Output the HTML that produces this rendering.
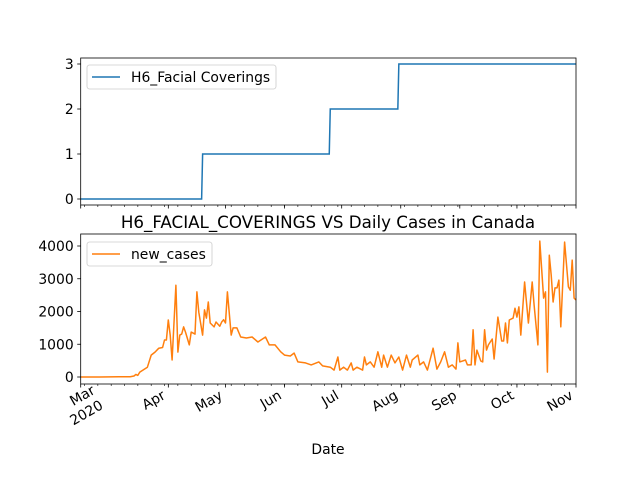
<!DOCTYPE html>
<html><head><meta charset="utf-8"><style>
body{margin:0;background:#fff;}
svg{display:block;font-family:"DejaVu Sans","Liberation Sans",sans-serif;}
</style></head><body>
<svg id="chart" width="640" height="480" viewBox="0 0 640 480" xmlns="http://www.w3.org/2000/svg"></svg>
<script>
// Data (day offsets from 2020-02-15)
const policyDays = [0, 64, 131, 167, 260];
const policyLevels = [0, 1, 2, 3, 3];
const caseDays = [0,10,20,26,28,29,30,31,35,37,39,41,43,44,45,46,47,48,50,51,52,53,54,55,57,58,60,61,62,64,65,66,67,68,70,71,73,74,75,76,77,79,80,82,84,87,90,93,97,99,102,105,107,110,112,114,118,121,125,127,131,133,135,136,138,140,142,143,145,148,149,150,152,154,156,158,159,161,163,165,167,169,171,173,174,177,178,180,182,185,187,189,191,193,195,197,198,199,202,203,205,206,207,208,210,211,212,213,214,216,217,219,221,222,223,224,225,227,228,229,230,231,233,235,237,238,240,241,243,244,245,246,247,248,249,250,251,252,254,256,257,258,259,260];
const caseValues = [0,0,5,10,30,80,50,150,300,670,760,880,900,1130,1130,1740,1280,520,2800,760,1280,1310,1530,1370,980,1370,1310,2600,1980,1280,2050,1800,2290,1650,1530,1680,1550,1680,1750,1650,2600,1280,1500,1500,1220,1190,1220,1070,1220,980,980,770,670,640,730,460,430,370,460,340,300,210,610,210,300,210,430,210,300,210,610,370,460,300,770,300,670,300,670,430,610,210,670,300,520,670,370,460,210,880,240,460,770,300,370,240,1040,460,520,370,370,1440,370,820,490,460,1440,820,980,1160,550,1830,1100,1100,1650,1040,1740,1800,2100,1830,2140,1280,2900,1650,2900,2200,980,4150,2410,2600,150,3720,3110,2290,2720,2720,2960,1530,4120,2750,2650,3570,2410,2350];
const monthDays = [0,46,76,107,137,168,199,229,260];
const monthLabels = ["Mar","Apr","May","Jun","Jul","Aug","Sep","Oct","Nov"];
const topTicks = [0,1,2,3];
const botTicks = [0,1000,2000,3000,4000];

const NS="http://www.w3.org/2000/svg";
const svg=document.getElementById('chart');
function mk(t,a,p){const e=document.createElementNS(NS,t);for(const k in a)e.setAttribute(k,a[k]);(p||svg).appendChild(e);return e;}
const X0=80.7,X1=576,DMAX=260;
const FS=13.9;
const x=d=>X0+(X1-X0)*d/DMAX;
const yTop=v=>199-45*v;
const yBot=v=>377-v*0.03275;

// top axes
const gT=mk('g',{});


let dTop='';
for(let i=0;i<policyDays.length;i++){
  if(i===0) dTop+=`M${x(policyDays[i])},${yTop(policyLevels[i])}`;
  else {dTop+=`L${x(policyDays[i])-1},${yTop(policyLevels[i-1])}L${x(policyDays[i])},${yTop(policyLevels[i])}`;}
}
const lt=mk('path',{d:dTop,fill:'none',stroke:'#1f77b4','stroke-width':1.5},gT);


topTicks.forEach(v=>{
  const y=yTop(v);
  mk('line',{x1:X0-3.5,x2:X0,y1:y,y2:y,stroke:'#000','stroke-width':0.8},gT);
  const t=mk('text',{x:X0-7,y:y+5,'text-anchor':'end','font-size':FS,fill:'#000'},gT);t.textContent=v;
  
  
});
mk('rect',{x:X0,y:58,width:X1-X0,height:147,fill:'none',stroke:'#000','stroke-width':0.8},gT);

// bottom axes
const gB=mk('g',{});


let dB=caseDays.map((d,i)=>(i?'L':'M')+x(d).toFixed(1)+','+yBot(caseValues[i]).toFixed(1)).join('');
const lb=mk('path',{d:dB,fill:'none',stroke:'#ff7f0e','stroke-width':1.5,'stroke-linejoin':'round'},gB);


botTicks.forEach(v=>{
  const y=yBot(v);
  mk('line',{x1:X0-3.5,x2:X0,y1:y,y2:y,stroke:'#000','stroke-width':0.8},gB);
  const t=mk('text',{x:X0-7,y:y+5,'text-anchor':'end','font-size':FS,fill:'#000'},gB);t.textContent=v;
  
  
});
mk('rect',{x:X0,y:234,width:X1-X0,height:150,fill:'none',stroke:'#000','stroke-width':0.8},gB);

// x ticks (both axes)
[205,384].forEach(yb=>{
  monthDays.forEach(d=>mk('line',{x1:x(d),x2:x(d),y1:yb,y2:yb+3.5,stroke:'#000','stroke-width':0.8}));
  for(let d=2;d<DMAX;d+=7){mk('line',{x1:x(d),x2:x(d),y1:yb,y2:yb+2,stroke:'#000','stroke-width':0.6});}
});
monthDays.forEach((d,i)=>{
  const px=x(d);
  const tx=i===0?96:px-2, ty=i===0?393:398;
  const t=mk('text',{'font-size':FS,'text-anchor':'end',fill:'#000',transform:`translate(${tx},${ty}) rotate(-30)`});
  
  
  t.textContent=monthLabels[i];
  if(i===0){const t2=mk('text',{'font-size':FS,'text-anchor':'end',fill:'#000',transform:`translate(104,408) rotate(-30)`});t2.textContent='2020';
    
    }
});
const xt=mk('text',{x:328,y:454,'text-anchor':'middle','font-size':FS,fill:'#000'});xt.textContent='Date';


const ti=mk('text',{x:328,y:228,'text-anchor':'middle','font-size':16.7,fill:'#000'});ti.textContent='H6_FACIAL_COVERINGS VS Daily Cases in Canada';



// legends
function legend(y,w,color,label,name){
  const g=mk('g',{});
  
  
  mk('rect',{x:87,y:y,width:w,height:24,rx:2.5,fill:'#fff',stroke:'#ccc','stroke-width':0.8},g);
  mk('line',{x1:92,x2:120,y1:y+12,y2:y+12,stroke:color,'stroke-width':1.5},g);
  const t=mk('text',{x:131,y:y+17,'font-size':FS,fill:'#000'},g);t.textContent=label;
}
legend(65,189,'#1f77b4','H6_Facial Coverings','legend-top');
legend(242,125,'#ff7f0e','new_cases','legend-bottom');
</script>
</body></html>
